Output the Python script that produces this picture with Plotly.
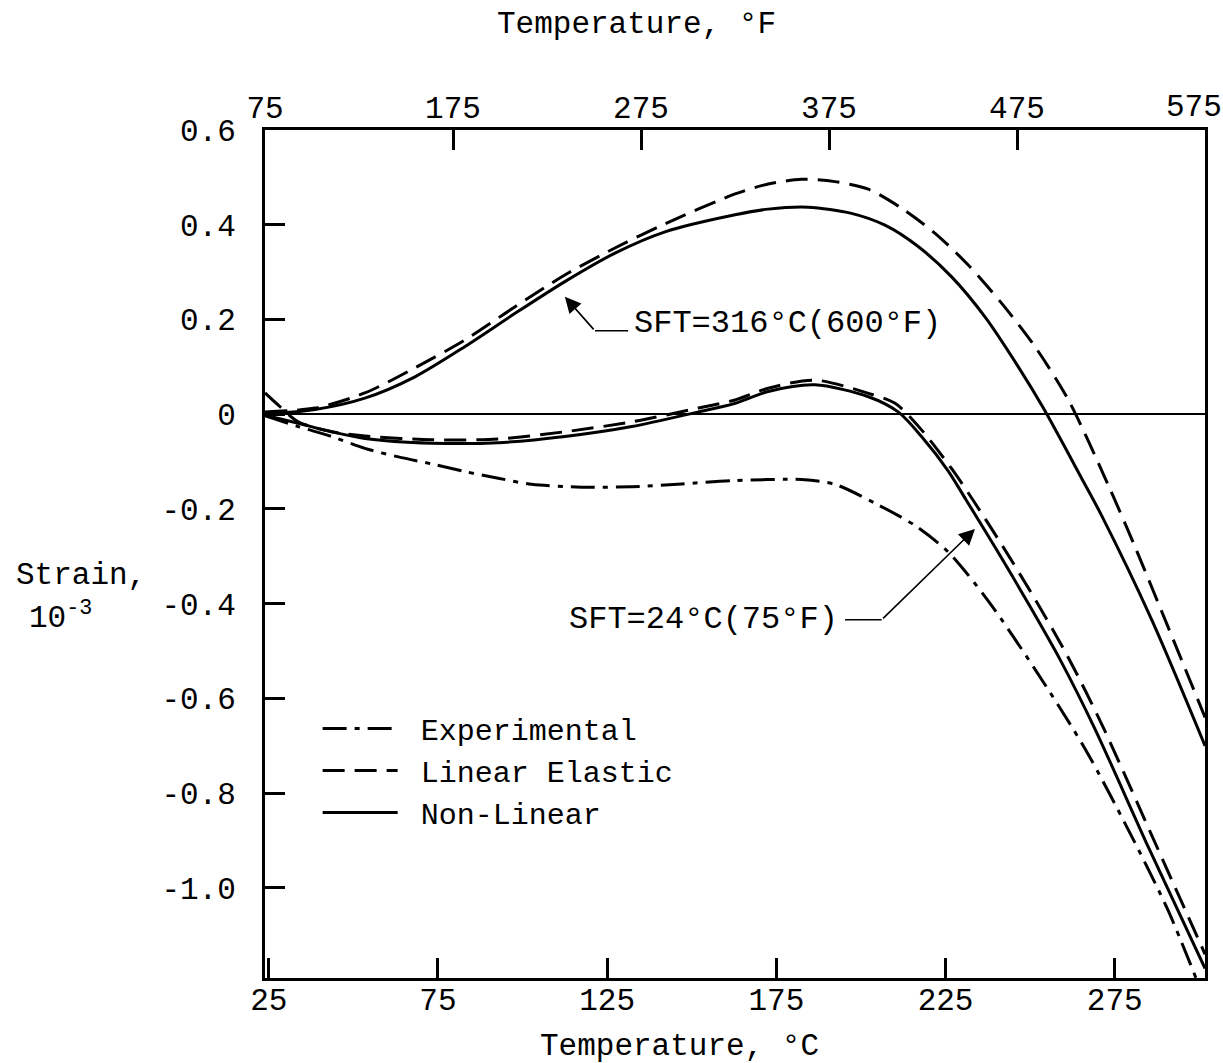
import plotly.graph_objects as go

# ---------------- data (Temperature in °C, strain in 1e-3) ----------------
# SFT = 316°C (600°F)
le316_t = [23.9, 38.7, 53.4, 68.2, 83.0, 97.8, 112.5, 127.3, 142.1, 162.8, 172.6, 182.5,
           192.3, 202.2, 212.0, 221.9, 231.7, 241.6, 251.4, 261.3, 273.1, 281.0, 290.8, 301.7]
le316_s = [0.005, 0.013, 0.045, 0.098, 0.157, 0.227, 0.294, 0.351, 0.402, 0.465, 0.486, 0.496,
           0.491, 0.475, 0.435, 0.382, 0.315, 0.234, 0.143, 0.030, -0.150, -0.280, -0.450, -0.640]

nl316_t = [23.9, 38.7, 53.4, 68.2, 83.0, 97.8, 112.5, 127.3, 142.1, 162.8, 172.6, 184.4,
           197.2, 207.1, 216.9, 226.8, 236.7, 246.5, 253.9, 265.2, 271.2, 286.0, 301.7]
nl316_s = [0.0, 0.010, 0.034, 0.079, 0.143, 0.213, 0.280, 0.340, 0.385, 0.421, 0.433, 0.437,
           0.424, 0.399, 0.354, 0.290, 0.205, 0.100, 0.013, -0.135, -0.215, -0.435, -0.700]

# SFT = 24°C (75°F)
exp24_t = [23.9, 33.7, 43.6, 53.4, 63.3, 73.2, 83.0, 92.8, 102.7, 117.5, 132.3, 147.0,
           162.8, 182.5, 192.3, 204.2, 216.0, 225.8, 237.7, 251.4, 266.2, 281.0, 290.8, 299.0]
exp24_s = [-0.003, -0.026, -0.047, -0.072, -0.090, -0.105, -0.121, -0.135, -0.148, -0.154, -0.153, -0.147,
           -0.140, -0.138, -0.148, -0.188, -0.235, -0.291, -0.395, -0.538, -0.706, -0.905, -1.048, -1.19]

le24_t = [23.9, 28.0, 33.7, 43.6, 53.4, 73.2, 92.8, 112.5, 132.3, 152.0, 162.8, 172.6,
          186.4, 202.2, 210.1, 217.9, 226.8, 233.0, 242.0, 251.4, 261.0, 271.2, 286.0, 301.7]
le24_s = [0.045, 0.018, -0.016, -0.037, -0.046, -0.054, -0.052, -0.037, -0.016, 0.013, 0.030, 0.055,
          0.072, 0.044, 0.023, -0.033, -0.115, -0.180, -0.280, -0.390, -0.510, -0.655, -0.890, -1.14]

nl24_t = [23.9, 33.7, 43.6, 53.4, 73.2, 92.8, 112.5, 132.3, 152.0, 162.8, 172.6, 186.4,
          202.2, 211.0, 217.9, 225.8, 231.0, 240.0, 249.5, 259.0, 269.2, 285.0, 301.7]
nl24_s = [-0.002, -0.019, -0.037, -0.051, -0.061, -0.060, -0.047, -0.026, 0.005, 0.023, 0.048, 0.062,
          0.037, 0.005, -0.047, -0.120, -0.180, -0.285, -0.400, -0.520, -0.665, -0.915, -1.17]

c_ticks = [25, 75, 125, 175, 225, 275]
f_ticks = [75, 175, 275, 375, 475, 575]
f_tick_text = ["75", "175", "275", "375", "475", " "]
y_ticks = [0.6, 0.4, 0.2, 0, -0.2, -0.4, -0.6, -0.8, -1.0]
y_tick_text = ["0.6", "0.4", "0.2", "0", "-0.2", "-0.4", "-0.6", "-0.8", "-1.0"]

F_RANGE = [75, 575]
C_RANGE = [(F_RANGE[0] - 32) * 5 / 9, (F_RANGE[1] - 32) * 5 / 9]
Y_RANGE = [-1.19, 0.6]

FONT = "Liberation Mono, Courier New, monospace"
EXP_DASH = "24px,8px,5px,8px"
LE_DASH = "22px,10px"
PAD = "\u00a0"

fig = go.Figure()


def add(t, s, name, dash, show):
    fig.add_trace(go.Scatter(
        x=t, y=s, mode="lines", name=PAD + name, legendgroup=name, showlegend=show,
        line=dict(color="black", width=3, dash=dash, shape="spline", smoothing=0.8),
    ))


add(exp24_t, exp24_s, "Experimental", EXP_DASH, True)
add(le24_t, le24_s, "Linear Elastic", LE_DASH, True)
add(nl24_t, nl24_s, "Non-Linear", "solid", True)
add(le316_t, le316_s, "Linear Elastic", LE_DASH, False)
add(nl316_t, nl316_s, "Non-Linear", "solid", False)

# dummy trace for the top (°F) axis
fig.add_trace(go.Scatter(x=F_RANGE, y=[None, None], xaxis="x2", mode="lines",
                         showlegend=False, hoverinfo="skip"))

axis_common = dict(
    showline=True, linecolor="black", linewidth=3,
    ticks="inside", ticklen=20, tickwidth=2.5, tickcolor="black",
    showgrid=False,
    tickfont=dict(family=FONT, size=31, color="black"),
    automargin=False,
)

fig.update_layout(
    width=1223, height=1063,
    margin=dict(l=265, r=18, t=130, b=85),
    paper_bgcolor="white", plot_bgcolor="white",
    font=dict(family=FONT, size=31, color="black"),
    showlegend=True,
    legend=dict(x=0.056, y=0.325, xanchor="left", yanchor="top",
                bgcolor="rgba(0,0,0,0)", itemwidth=75,
                font=dict(family=FONT, size=30, color="black"),
                tracegroupgap=0),
    xaxis=dict(range=C_RANGE, tickvals=c_ticks, ticktext=[str(v) for v in c_ticks],
               mirror=False, ticklabelstandoff=-8, zeroline=False, **axis_common),
    xaxis2=dict(range=F_RANGE, overlaying="x", side="top", tickvals=f_ticks,
                ticktext=f_tick_text, ticklabelstandoff=-3, zeroline=False, **axis_common),
    yaxis=dict(range=Y_RANGE, tickvals=y_ticks, ticktext=y_tick_text, mirror=True,
               ticklabelstandoff=20, zeroline=True, zerolinecolor="black", zerolinewidth=2,
               **axis_common),
)

ann_font = dict(family=FONT, size=31, color="black")
# axis titles
fig.add_annotation(text="Temperature, °C", xref="paper", yref="paper", x=0.441, y=-0.081,
                   showarrow=False, font=ann_font, xanchor="center", yanchor="middle")
fig.add_annotation(text="Temperature, °F", xref="paper", yref="paper", x=0.395, y=1.124,
                   showarrow=False, font=ann_font, xanchor="center", yanchor="middle")
fig.add_annotation(text="Strain,", xref="paper", yref="paper", x=-0.267, y=0.475,
                   showarrow=False, font=ann_font, xanchor="left", yanchor="middle")
fig.add_annotation(text="10<sup>-3</sup>", xref="paper", yref="paper", x=-0.253, y=0.427,
                   showarrow=False, font=ann_font, xanchor="left", yanchor="middle")
# last top tick label (shifted inside the page like the original)
fig.add_annotation(text="575", xref="paper", yref="paper", x=0.988, y=1.026,
                   showarrow=False, font=ann_font, xanchor="center", yanchor="middle")

# SFT labels with bent arrows
sft_font = dict(family=FONT, size=32, color="black")
fig.add_annotation(text="SFT=316°C(600°F)", x=132.3, y=0.192, xref="x", yref="y",
                   showarrow=False, font=sft_font, xanchor="left", yanchor="middle")
fig.add_shape(type="line", x0=121.4, x1=131.2, y0=0.176, y1=0.176, xref="x", yref="y",
              line=dict(color="black", width=1.5))
fig.add_annotation(text="", x=112.5, y=0.248, ax=121.4, ay=0.176, xref="x", yref="y",
                   axref="x", ayref="y", showarrow=True, arrowhead=2, arrowsize=2,
                   arrowwidth=1.6, arrowcolor="black")

fig.add_annotation(text="SFT=24°C(75°F)", x=193.8, y=-0.434, xref="x", yref="y",
                   showarrow=False, font=sft_font, xanchor="right", yanchor="middle")
fig.add_shape(type="line", x0=195.3, x1=206.1, y0=-0.434, y1=-0.434, xref="x", yref="y",
              line=dict(color="black", width=1.5))
fig.add_annotation(text="", x=233.7, y=-0.242, ax=206.1, ay=-0.434, xref="x", yref="y",
                   axref="x", ayref="y", showarrow=True, arrowhead=2, arrowsize=2,
                   arrowwidth=1.6, arrowcolor="black")

fig.write_html("out.html")
